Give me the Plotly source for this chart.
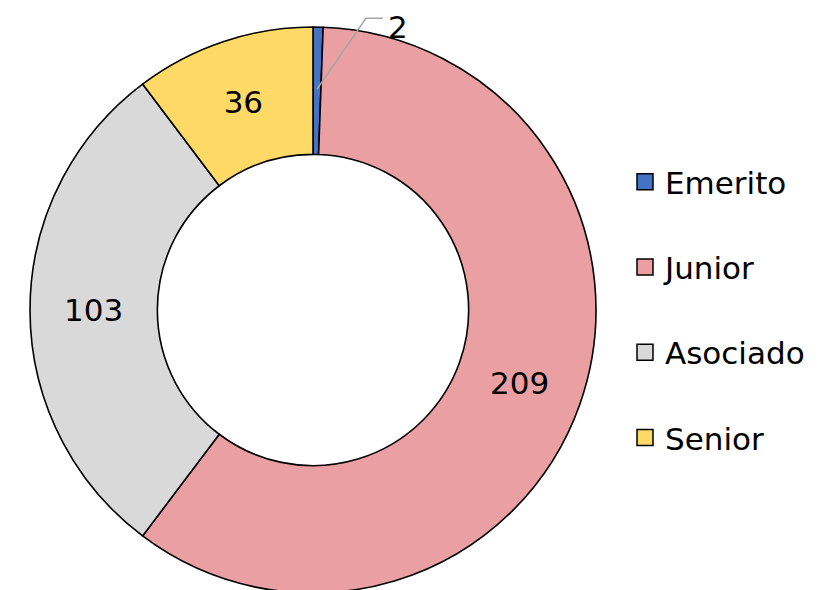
import math
import plotly.graph_objects as go

# Data
categorias = ["Emerito", "Junior", "Asociado", "Senior"]
valores = [2, 209, 103, 36]
colores = ["#4472C4", "#EA9FA2", "#D9D9D9", "#FFD966"]

W, H = 830, 590
FONT = "DejaVu Sans, Verdana, sans-serif"
OFF = 8  # page body margin

# pie geometry (pixels, figure coords)
cx, cy, R = 313 - OFF, 310 - OFF, 283
dom_x = [(cx - R) / W, (cx + R) / W]
dom_y = [1 - (cy + R) / H, 1 - (cy - R) / H]

fig = go.Figure()

# small slice gets its label outside with a leader line
textos = ["" if v < 10 else str(v) for v in valores]

fig.add_trace(go.Pie(
    labels=categorias,
    values=valores,
    text=textos,
    textinfo="text",
    textposition="inside",
    insidetextorientation="horizontal",
    sort=False,
    direction="clockwise",
    rotation=0,
    hole=0.55,
    marker=dict(colors=colores, line=dict(color="#000000", width=1.6)),
    textfont=dict(family=FONT, size=31, color="#000000"),
    domain=dict(x=dom_x, y=dom_y),
    showlegend=False,
))

# leader line for the tiny slice
total = sum(valores)
ang = math.pi * valores[0] / total  # mid angle from 12 o'clock, clockwise
r0 = 0.78 * R
x0 = cx + r0 * math.sin(ang)
y0 = cy - r0 * math.cos(ang)
x1, y1 = x0 + 49, y0 - 71
x2 = x1 + 17
fig.add_shape(
    type="path",
    xref="paper", yref="paper",
    path=f"M {x0/W},{1-y0/H} L {x1/W},{1-y1/H} L {x2/W},{1-y1/H}",
    line=dict(color="#A6A6A6", width=1.5),
)
# label box kept inside the top edge
fig.add_annotation(
    x=(x2 + 4) / W, y=1,
    xref="paper", yref="paper",
    text=str(valores[0]),
    showarrow=False,
    borderpad=0,
    xanchor="left", yanchor="top",
    font=dict(family=FONT, size=31, color="#000000"),
)

# legend entries
for cat, col in zip(categorias, colores):
    fig.add_trace(go.Scatter(
        x=[None], y=[None],
        mode="markers",
        name=cat,
        legendgroup=cat,
        marker=dict(symbol="square", size=16, color=col,
                    line=dict(color="#000000", width=1.5)),
    ))

fig.update_layout(
    width=W, height=H,
    margin=dict(l=0, r=0, t=0, b=0),
    paper_bgcolor="white",
    plot_bgcolor="white",
    font=dict(family=FONT, size=31, color="#000000"),
    xaxis=dict(visible=False),
    yaxis=dict(visible=False),
    legend=dict(
        x=617 / W, y=1 - 147 / H,
        xanchor="left", yanchor="top",
        traceorder="grouped",
        tracegroupgap=42,
        itemwidth=30,
        font=dict(family=FONT, size=31, color="#000000"),
        bgcolor="rgba(0,0,0,0)",
    ),
)

fig.write_html("out.html")
